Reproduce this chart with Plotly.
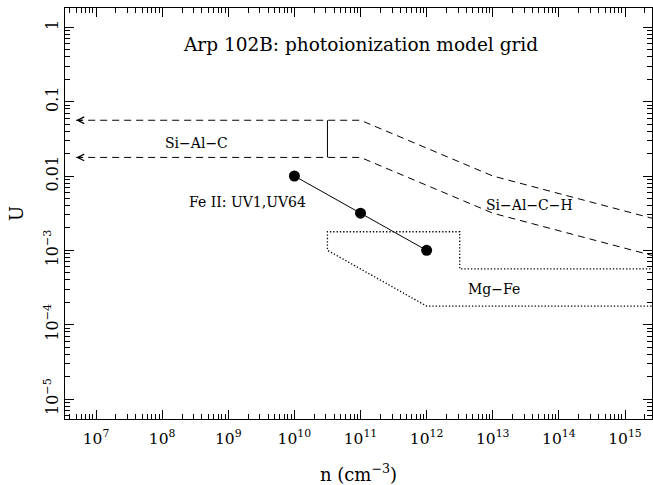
import numpy as np
import plotly.graph_objects as go

# Fe II (UV1, UV64) model sequence: density n [cm^-3] and ionization parameter U
fe_n = [1e10, 1e11, 1e12]
fe_u = [1e-2, 10 ** -2.5, 1e-3]

# Si-Al-C / Si-Al-C-H allowed band (upper and lower dashed boundaries)
band_n = [10 ** 6.7, 1e11, 1e13, 10 ** 15.5]
band_upper_u = [10 ** -1.25, 10 ** -1.25, 10 ** -2.0, 10 ** -2.59]
band_lower_u = [10 ** -1.75, 10 ** -1.75, 10 ** -2.5, 10 ** -3.09]

# divider between the Si-Al-C and Si-Al-C-H parts of the band
divider_n = [10 ** 10.5, 10 ** 10.5]
divider_u = [10 ** -1.75, 10 ** -1.25]

# Mg-Fe region outline (dotted)
mgfe_n = [10 ** 15.5, 1e12, 10 ** 10.5, 10 ** 10.5, 10 ** 12.5, 10 ** 12.5, 10 ** 15.5]
mgfe_u = [10 ** -3.75, 10 ** -3.75, 1e-3, 10 ** -2.75, 10 ** -2.75, 10 ** -3.25, 10 ** -3.25]

# axis ticks
x_decades = list(range(7, 16))
x_tickvals = [10.0 ** d for d in x_decades]
x_ticktext = [f"10<sup>{d}</sup>" for d in x_decades]
y_decades = [-5, -4, -3, -2, -1, 0]
y_tickvals = [10.0 ** d for d in y_decades]
y_ticktext = ["10<sup>\u22125</sup>", "10<sup>\u22124</sup>", "10<sup>\u22123</sup>", "0.01", "0.1", "1"]
x_minor = [k * 10.0 ** d for d in range(6, 16) for k in range(2, 10)]
y_minor = [k * 10.0 ** d for d in range(-6, 1) for k in range(2, 10)]

# text labels: (text, log10 n, log10 U, size)
labels = [
    ("Arp 102B: photoionization model grid", 11.0, -0.225, 18.5),
    ("Si\u2212Al\u2212C", 8.515, -1.55, 14),
    ("Fe II: UV1,UV64", 9.295, -2.355, 14),
    ("Si\u2212Al\u2212C\u2212H", 13.558, -2.395, 14),
    ("Mg\u2212Fe", 13.015, -3.52, 14),
]

FONT = "DejaVu Serif"
fig = go.Figure()

fig.add_trace(go.Scatter(x=band_n, y=band_upper_u, mode="lines",
                         line=dict(color="black", width=1, dash="7px,5px")))
fig.add_trace(go.Scatter(x=band_n, y=band_lower_u, mode="lines",
                         line=dict(color="black", width=1, dash="7px,5px")))
fig.add_trace(go.Scatter(x=divider_n, y=divider_u, mode="lines",
                         line=dict(color="black", width=1)))
fig.add_trace(go.Scatter(x=mgfe_n, y=mgfe_u, mode="lines",
                         line=dict(color="black", width=1.3, dash="1.3px,2px")))
fig.add_trace(go.Scatter(x=fe_n, y=fe_u, mode="lines+markers",
                         line=dict(color="black", width=1),
                         marker=dict(color="black", size=11)))

annotations = []
# open arrow heads at the low-density end of the band boundaries
for u in (band_upper_u[0], band_lower_u[0]):
    annotations.append(dict(
        x=np.log10(band_n[0]), y=np.log10(u), xref="x", yref="y",
        ax=np.log10(band_n[0]) + 0.12, ay=np.log10(u), axref="x", ayref="y",
        showarrow=True, arrowhead=5, arrowsize=1.3, arrowwidth=1,
        arrowcolor="black", standoff=0, startstandoff=0, text=""))
for text, lx, ly, size in labels:
    annotations.append(dict(
        x=lx, y=ly, xref="x", yref="y", text=text, showarrow=False,
        xanchor="center", yanchor="middle",
        font=dict(family=FONT, size=size, color="black")))

axis_common = dict(
    type="log", showgrid=False, zeroline=False,
    showline=True, linecolor="black", linewidth=1, mirror="ticks",
    ticks="inside", ticklen=9, tickwidth=1, tickcolor="black",
    tickmode="array",
)

fig.update_layout(
    width=653, height=485,
    margin=dict(l=65, r=1, t=8, b=66),
    paper_bgcolor="white", plot_bgcolor="white",
    showlegend=False,
    font=dict(family=FONT, color="black"),
    annotations=annotations,
    xaxis=dict(
        **axis_common, range=[6.531, 15.408],
        tickvals=x_tickvals, ticktext=x_ticktext,
        tickfont=dict(family=FONT, size=15.5, color="black"),
        ticklabelstandoff=5,
        minor=dict(ticks="inside", ticklen=5, tickwidth=1, tickcolor="black",
                   tickvals=x_minor, showgrid=False),
        title=dict(text="n (cm<sup>\u22123</sup>)", font=dict(family=FONT, size=18), standoff=22),
    ),
    yaxis=dict(
        **axis_common, range=[-5.269, 0.26], tickangle=-90,
        tickvals=y_tickvals, ticktext=y_ticktext,
        tickfont=dict(family=FONT, size=16, color="black"),
        minor=dict(ticks="inside", ticklen=5, tickwidth=1, tickcolor="black",
                   tickvals=y_minor, showgrid=False),
        title=dict(text="U", font=dict(family=FONT, size=18), standoff=12),
    ),
)

fig.write_html("out.html")
